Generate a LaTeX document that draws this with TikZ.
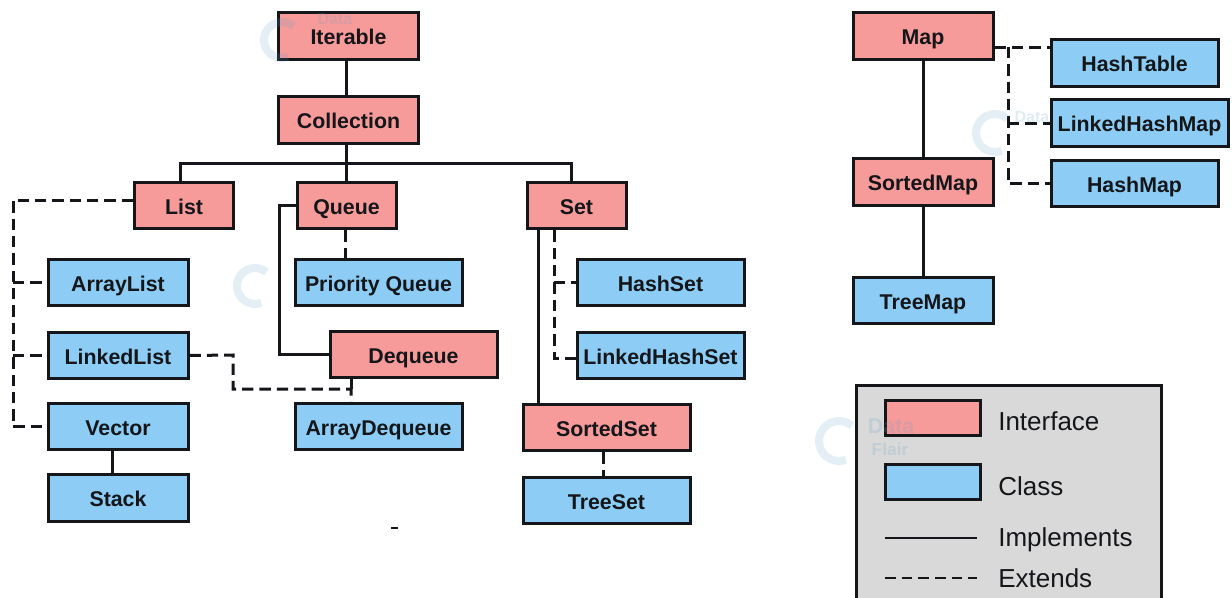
\documentclass[tikz,border=0pt]{standalone}
\usepackage{fontspec}
\setmainfont{Liberation Sans}
\usepackage{xcolor}
\usetikzlibrary{arrows}
\definecolor{ifacepink}{HTML}{F69A9A}
\definecolor{classblue}{HTML}{8DCDF5}
\definecolor{inkdark}{HTML}{14161A}
\definecolor{legendgrey}{HTML}{D9D9D9}
\definecolor{markblue}{HTML}{5F9FC4}
\tikzset{
  box/.style={draw=inkdark,line width=2.25pt,inner sep=0pt,text=inkdark,minimum height=35pt,
    text height=12.75pt,text depth=0pt,font=\fontsize{16}{20}\bfseries},
  iface/.style={box,fill=ifacepink},
  cls/.style={box,fill=classblue},
  narrow/.style={minimum width=74.25pt},
  middle/.style={minimum width=105pt},
  wide/.style={minimum width=125.25pt},
  solidline/.style={draw=inkdark,line width=2.25pt},
  dashline/.style={draw=inkdark,line width=2.25pt,dash pattern=on 8.5pt off 4.5pt},
  legendtext/.style={anchor=base west,inner sep=0pt,text=inkdark,font=\fontsize{19.5}{22}\selectfont},
  marktxt/.style={inner sep=0pt,text=markblue,text opacity=0.2,font=\fontsize{12}{12}\bfseries},
  markarc/.style={draw=markblue,line width=6pt,draw opacity=0.17}
}
\begin{document}
\begin{tikzpicture}[x=0.75pt,y=0.75pt,yscale=-1,xscale=1]
    \useasboundingbox (0,0) rectangle (1232,597);
    \clip (0,0) rectangle (1232,597);

    % Legend frame
    \node (legendbox) [draw=inkdark,line width=2.25pt,fill=legendgrey,minimum width=229pt,minimum height=180pt,inner sep=0pt,anchor=north west] at (855,384) {};

    % Collection side
    \node (iterable) [iface,middle] at (348.5,36) {Iterable};
    \node (collection) [iface,middle] at (348.5,120) {Collection};
    \node (list) [iface,narrow] at (184,205.5) {List};
    \node (queue) [iface,narrow] at (346.5,205.5) {Queue};
    \node (set) [iface,narrow] at (576.5,205.5) {Set};
    \node (arraylist) [cls,middle] at (118,282.5) {ArrayList};
    \node (linkedlist) [cls,middle] at (118,355.5) {LinkedList};
    \node (vector) [cls,middle] at (118,426.5) {Vector};
    \node (stack) [cls,middle] at (118,498) {Stack};
    \node (priorityqueue) [cls,wide] at (378.5,282.5) {Priority Queue};
    \node (dequeue) [iface,wide] at (413.5,354.5) {Dequeue};
    \node (arraydequeue) [cls,wide] at (378.5,426.5) {ArrayDequeue};
    \node (hashset) [cls,wide] at (660.5,282.5) {HashSet};
    \node (linkedhashset) [cls,wide] at (660.5,355.5) {LinkedHashSet};
    \node (sortedset) [iface,wide] at (606.5,427.5) {SortedSet};
    \node (treeset) [cls,wide] at (606.5,500.5) {TreeSet};

    % Map side
    \node (map) [iface,middle] at (923,36) {Map};
    \node (sortedmap) [iface,middle] at (923,182) {SortedMap};
    \node (treemap) [cls,middle] at (923,300.5) {TreeMap};
    \node (hashtable) [cls,wide] at (1134.5,63) {HashTable};
    \node (linkedhashmap) [cls,minimum width=132.75pt] at (1139.5,123) {LinkedHashMap};
    \node (hashmap) [cls,wide] at (1134.5,183.5) {HashMap};

    % Junction points
    \coordinate (busmid) at (346,163);
    \coordinate (busleft) at (180,163);
    \coordinate (busright) at (571,163);
    \coordinate (listrail) at (13,200);
    \coordinate (queuerail) at (279,205);
    \coordinate (queuedash) at (345,240);
    \coordinate (detourone) at (233,355);
    \coordinate (detourtwo) at (351,389);
    \coordinate (stackline) at (112,460);
    \coordinate (setsolid) at (538,240);
    \coordinate (setdash) at (554,240);
    \coordinate (setdashend) at (577,358);
    \coordinate (maprail) at (1008,47);
    \coordinate (sortedsetdash) at (603,465);

    % Straight Lines
    \draw [solidline] (busmid |- iterable.south) -- (busmid |- collection.north);
    \draw [solidline] (busmid |- collection.south) -- (busmid);
    \draw [solidline] (busleft |- list.north) -- (busleft) -- (busright) -- (busright |- set.north);
    \draw [solidline] (busmid) -- (busmid |- queue.north);
    \draw [solidline] (queue.west |- queuerail) -- (queuerail) |- (dequeue.west);
    \draw [solidline] (stackline |- vector.south) -- (stackline |- stack.north);
    \draw [solidline] (setsolid |- set.south) -- (setsolid |- sortedset.north);
    \draw [solidline] (map.south) -- (sortedmap.north);
    \draw [solidline] (sortedmap.south) -- (treemap.north);

    % Dashed Lines
    \draw [dashline] (list.west |- listrail) -- (listrail) |- (vector.west);
    \draw [dashline] (listrail |- arraylist.west) -- (arraylist.west);
    \draw [dashline] (listrail |- linkedlist.west) -- (linkedlist.west);
    \draw [dashline] (queuedash |- queue.south) -- (queuedash |- priorityqueue.north);
    \draw [dashline] (linkedlist.east) -- (detourone) |- (detourtwo) -- (detourtwo |- arraydequeue.north);
    \draw [dashline] (detourtwo |- dequeue.south) -- (detourtwo);
    \draw [dashline] (setdash |- set.south) |- (setdashend);
    \draw [dashline] (setdash |- hashset.west) -- (hashset.west);
    \draw [dashline] (sortedsetdash |- sortedset.south) -- (sortedsetdash |- treeset.north);
    \draw [dashline] (map.east |- maprail) -- (hashtable.west |- maprail);
    \draw [dashline] (maprail) |- (hashmap.west);
    \draw [dashline] (maprail |- linkedhashmap.west) -- (linkedhashmap.west);

    % Legend
    \node (legendiface) [iface,minimum width=71.25pt,minimum height=26.25pt] at (932.5,417.5) {};
    \node (legendclass) [cls,minimum width=71.25pt,minimum height=26.25pt] at (932.5,482) {};
    \coordinate (solidstart) at (885,538);
    \coordinate (solidend) at (977,538);
    \coordinate (dashstart) at (885,578);
    \coordinate (dashend) at (977,578);
    \draw [draw=inkdark,line width=2pt] (solidstart) -- (solidend);
    \draw [draw=inkdark,line width=2pt,dash pattern=on 8pt off 4.5pt] (dashstart) -- (dashend);
    \node (ifacelabel) [legendtext] at (998,430) {Interface};
    \node (classlabel) [legendtext] at (998,495) {Class};
    \node (implabel) [legendtext] at (998,546) {Implements};
    \node (extlabel) [legendtext] at (998,587) {Extends};

    % Stray mark
    \coordinate (straystart) at (391,528);
    \coordinate (strayend) at (398,528);
    \draw [draw=inkdark,line width=1.5pt] (straystart) -- (strayend);

    % Watermarks
    \draw [markarc] (282,40) ++(-50:18) arc [start angle=-50,end angle=-290,radius=18];
    \draw [markarc] (255,286) ++(-50:18) arc [start angle=-50,end angle=-290,radius=18];
    \draw [markarc] (995,133) ++(-50:19) arc [start angle=-50,end angle=-290,radius=19];
    \draw [markarc] (839,441) ++(-50:20) arc [start angle=-50,end angle=-290,radius=20];
    \node (markone) [marktxt] at (335,19) {Data};
    \node (marktwo) [marktxt] at (1032,117) {Data};
    \node (markthree) [marktxt,font=\fontsize{16}{16}\bfseries] at (891,426) {Data};
    \node (markfour) [marktxt,font=\fontsize{13}{13}\bfseries] at (890,449) {Flair};
\end{tikzpicture}
\end{document}
